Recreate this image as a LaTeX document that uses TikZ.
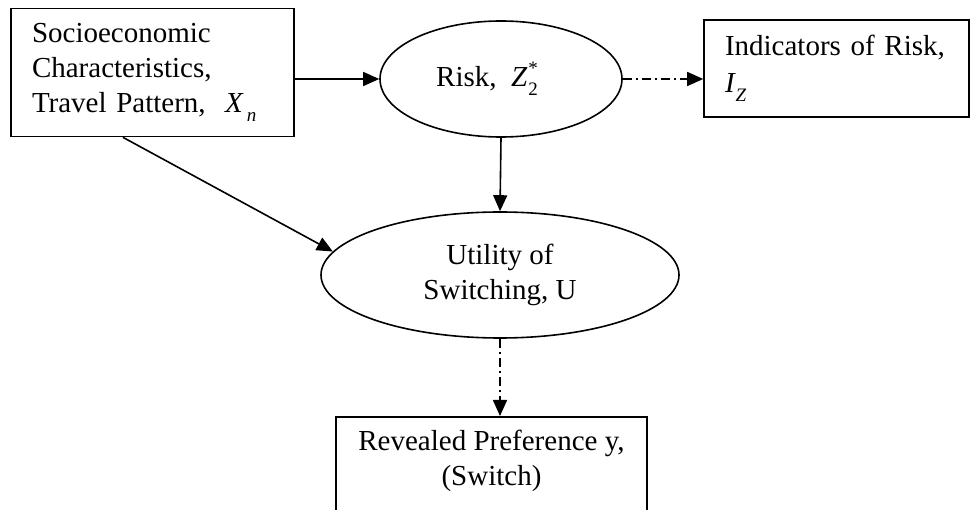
\documentclass[tikz,border=0pt]{standalone}
\usepackage{fontspec}
\setmainfont{Liberation Serif}
\usetikzlibrary{arrows.meta,calc,shapes.geometric}
\newcommand\mysubsup[2]{\makebox[0pt][l]{\raisebox{0.42em}{\fontsize{19}{19}\selectfont #2}}\raisebox{-0.32em}{\fontsize{19}{19}\selectfont #1}}
\newcommand\mysub[1]{\raisebox{-0.32em}{\fontsize{19}{19}\selectfont\itshape #1}}
\tikzset{
  every node/.style={font=\fontsize{29}{35}\selectfont},
  boxnode/.style={draw, rectangle, line width=1.6pt, inner sep=0pt},
  ellnode/.style={draw, ellipse, line width=1.6pt, inner sep=0pt},
  conn/.style={line width=1.6pt, -{Triangle[length=16pt,width=14pt]}},
  dconn/.style={conn, dash pattern=on 9pt off 4pt on 2pt off 4pt},
}
\begin{document}
\begin{tikzpicture}[x=1pt,y=-1pt]
\clip (0,0) rectangle (970,510);
\node[boxnode, minimum width=283pt, minimum height=128pt, text width=241pt, align=left] (soc) at (152.5,72.5)
  {Socioeconomic\\Characteristics,\\Travel Pattern,\ \ {\itshape X}\kern4pt\mysub{n}};
\node[ellnode, minimum width=242pt, minimum height=116pt] (risk) at (501,79)
  {\kern-28pt Risk,\ \ {\itshape Z}\kern1pt\mysubsup{2}{*}};
\node[boxnode, minimum width=265pt, minimum height=97pt, text width=223pt, align=left] (ind) at (836.5,68.5)
  {Indicators of Risk,\\[2pt]{\itshape I}\kern1pt\mysub{Z}};
\node[ellnode, minimum width=358pt, minimum height=126pt, align=center] (util) at (500,275)
  {Utility of\\Switching, U};
\node[boxnode, minimum width=311pt, minimum height=140pt, anchor=north] (rev) at (491.5,416) {};
\node[align=center, inner sep=0pt] (revt) at (491.5,461) {Revealed Preference y,\\(Switch)};
\coordinate (socout) at ($(soc.south west)!0.396!(soc.south east)$);
\draw[conn] (risk.west -| soc.east) -- (risk.west);
\draw[dconn] (risk.east) -- (risk.east -| ind.west);
\draw[conn] (risk.south) -- (util.north);
\draw[conn] (socout) -- (util.172);
\draw[dconn] (util.south) -- (util.south |- rev.north);
\end{tikzpicture}
\end{document}
